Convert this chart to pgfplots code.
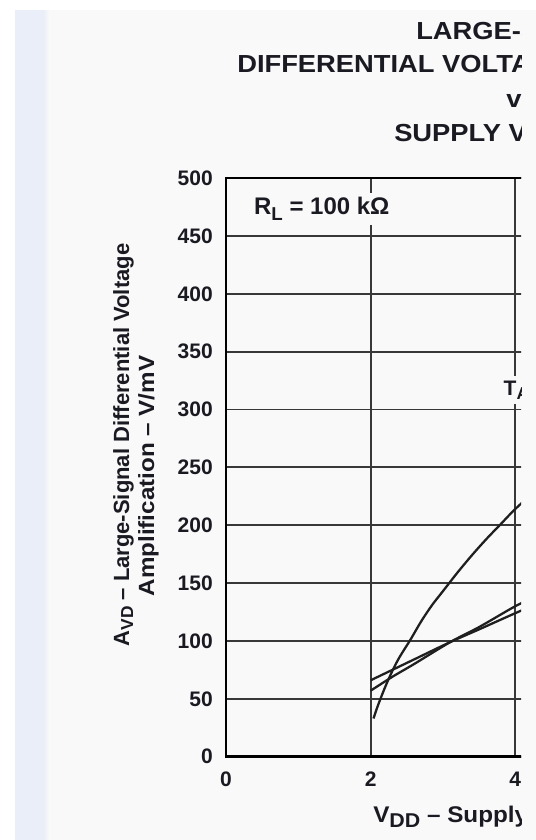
\documentclass[border=0pt]{standalone}
\usepackage{fontspec}
\setmainfont{Liberation Sans}
\usepackage{graphicx}
\usepackage{pgfplots}
\pgfplotsset{compat=1.18}
\definecolor{bgc}{HTML}{F9F9F9}
\definecolor{stripc}{HTML}{E9EEF8}
\definecolor{txt}{HTML}{1A1A22}
\definecolor{grd}{HTML}{383838}
\newcommand{\fs}[1]{\fontsize{#1}{#1}\selectfont\bfseries}
\begin{document}
\begin{tikzpicture}
\path[use as bounding box] (0pt,0pt) rectangle (402pt,-630pt);
\clip (0pt,0pt) rectangle (402pt,-630pt);
\begin{scope}[x=0.75pt,y=-0.75pt]
\fill[white] (0,0) rectangle (536,840);
\fill[stripc] (15,10) rectangle (46,840);
\shade[left color=stripc,right color=bgc] (43,10) rectangle (49,840);
\fill[bgc] (49,10) rectangle (536,840);
\end{scope}
\begin{scope}
\clip (0pt,0pt) rectangle (390.75pt,-630pt);
\begin{scope}[x=0.75pt,y=-0.75pt]
% title
\node[anchor=base west,inner sep=0pt,text=txt] at (416,39) {\scalebox{1.108}[1]{\fs{18.5}LARGE-SIGNAL}};
\node[anchor=base west,inner sep=0pt,text=txt] at (237,72) {\scalebox{1.108}[1]{\fs{18.5}DIFFERENTIAL VOLTAGE AMPLIFICATION}};
\node[anchor=base west,inner sep=0pt,text=txt] at (506,107) {\scalebox{1.108}[1]{\fs{18.5}vs}};
\node[anchor=base west,inner sep=0pt,text=txt] at (394,141) {\scalebox{1.108}[1]{\fs{18.5}SUPPLY VOLTAGE}};
% y label
\node[rotate=90,anchor=base,inner sep=0pt,text=txt] at (129,445) {\scalebox{1.0}[1]{\fs{16.5}A\raisebox{-3pt}{\fs{13}VD} -- Large-Signal Differential Voltage}};
\node[rotate=90,anchor=base,inner sep=0pt,text=txt] at (154,476) {\scalebox{1.1}[1]{\fs{16.5}Amplification -- V/mV}};
% x label
\node[anchor=base west,inner sep=0pt,text=txt] at (373,822) {\scalebox{1.07}[1]{\fs{17}V\raisebox{-4pt}{\fs{15}DD} -- Supply Voltage -- V}};
\end{scope}
\begin{axis}[
  at={(169.5pt,-567.5pt)}, anchor=origin,
  x=54.225pt, y=0.8678pt,
  xmin=0, xmax=4.6, ymin=0, ymax=500,
  xtick={0,2,4,6}, ytick={0,50,...,500},
  grid=major,
  major grid style={grd, line width=1.4pt},
  axis line style={black, line width=2pt},
  major tick length=0pt,
  tick label style={font=\fs{15.75}, text=txt, inner sep=0pt},
  /pgf/number format/assume math mode=true,
  xticklabel style={anchor=base, yshift=-22.5pt},
  yticklabel style={anchor=east, xshift=-9.75pt},
  clip=false,
]
\addplot[black!88, line width=1.7pt, smooth] coordinates {
 (2.04,33) (2.10,44) (2.20,60) (2.30,74) (2.40,86) (2.55,101) (2.70,117)
 (2.85,131) (3.00,143) (3.20,159) (3.40,174) (3.60,188) (3.80,201)
 (4.00,214) (4.30,231)};
\addplot[black!88, line width=1.7pt, smooth] coordinates {
 (2.0,66) (2.3,75) (2.6,84) (3.1,99) (3.5,110) (4.0,124) (4.3,132)};
\addplot[black!88, line width=1.7pt, smooth] coordinates {
 (2.0,57) (2.3,69) (2.6,80) (3.1,99) (3.5,112) (4.0,130) (4.3,139)};
\node[anchor=base west, fill=bgc, inner sep=3pt, text=txt] at (axis cs:0.33,469) {\fs{18}R\raisebox{-5pt}{\fs{14}L} = 100 kΩ};
\node[anchor=base west, fill=bgc, inner xsep=2pt, inner ysep=4pt, text=txt] at (axis cs:3.80,312) {\fs{15.75}T\raisebox{-2.5pt}{\fs{13}A} = 125°C};
\end{axis}
\end{scope}
\end{tikzpicture}
\end{document}
